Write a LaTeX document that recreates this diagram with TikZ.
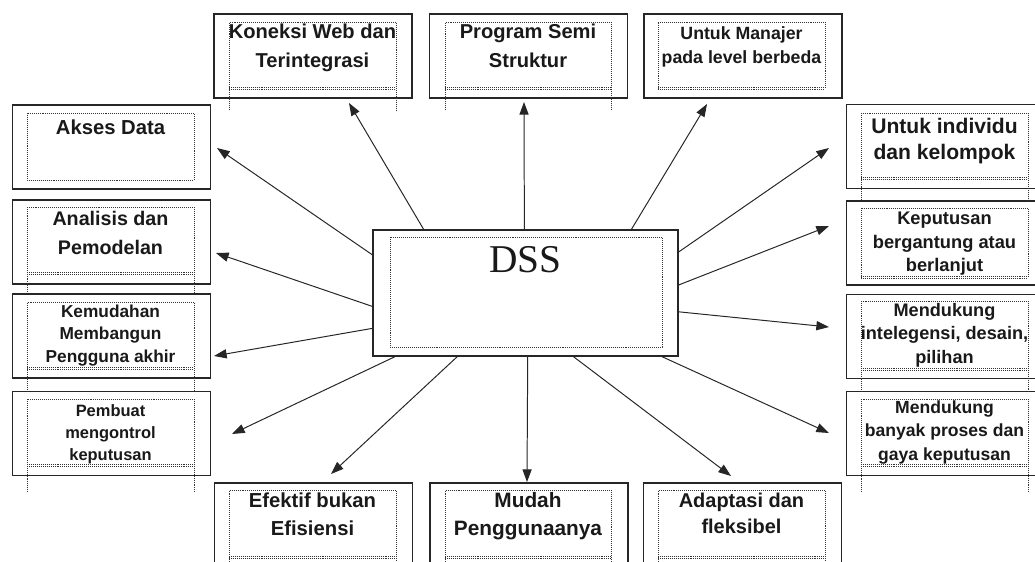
\documentclass[tikz,border=0pt]{standalone}
\usepackage{fontspec}
\setmainfont{Liberation Sans}
\newfontfamily\dssfont{Liberation Serif}
\usetikzlibrary{arrows.meta}

\newcommand{\boxfont}[2]{\fontsize{#1}{#2}\selectfont\bfseries}

\tikzset{
  panel/.style={draw=black!85,line width=0.9pt,minimum width=4.95cm,minimum height=2.1cm,inner sep=0pt},
  frame/.style={draw=black!80,line width=0.5pt,dash pattern=on 0.5pt off 0.9pt},
  boxtext/.style={inner sep=0pt,align=center,text=black!90},
  spoke/.style={draw=black!85,line width=0.7pt,-{Triangle[length=9pt,width=6.5pt]}},
}

\begin{document}
\begin{tikzpicture}[x=0.025cm,y=-0.025cm]
  \clip (0,0) rectangle (1035,561);
  \fill[white] (0,0) rectangle (1035,561);

  % centre box
  \node[panel,minimum width=7.625cm,minimum height=3.15cm] (dss) at (525.5,293) {};
  \draw[frame] (390,237) rectangle (662,347);
  \node[boxtext,anchor=base,font=\dssfont\fontsize{28}{32}\selectfont] (dss-txt) at (525.5,272) {DSS};

  % outer boxes
  \node[panel] (koneksi) at (313,56) {};
  \node[panel] (program) at (528.5,56) {};
  \node[panel] (manajer) at (743,56) {};
  \node[panel] (akses) at (111.5,147) {};
  \node[panel] (analisis) at (111.5,242) {};
  \node[panel] (kemudahan) at (111.5,336) {};
  \node[panel] (pembuat) at (111.5,433.5) {};
  \node[panel] (individu) at (945.5,146.5) {};
  \node[panel] (keputusan) at (945.5,243) {};
  \node[panel] (intel) at (945.5,336.5) {};
  \node[panel] (banyak) at (945.5,433.5) {};
  \node[panel] (efektif) at (313.5,525) {};
  \node[panel] (mudah) at (529,525) {};
  \node[panel] (adaptasi) at (742.5,525) {};

  % dotted text frames running past the box
  \foreach \xa/\xb/\top/\dbl/\ext in {229/396/22/88/110, 445/611/22/88/110,
      27/194/207/273/292, 27/194/302/368/392, 27/194/399/465/492,
      861/1028/113/178/200, 861/1028/301/369/392, 861/1028/399/465/492,
      229/396/490/557/570, 445/611/490/557/570, 658/825/490/557/570} {
    \draw[frame] (\xa,\ext) -- (\xa,\top) -- (\xb,\top) -- (\xb,\ext);
    \draw[frame] (\xa,{\dbl-1}) -- (\xb,{\dbl-1});
    \draw[frame] (\xa,{\dbl+1}) -- (\xb,{\dbl+1});
  }
  % closed frames
  \foreach \xa/\xb/\top/\dbl in {658/825/22/88, 861/1028/208/277} {
    \draw[frame] (\xa,{\dbl+1}) -- (\xa,\top) -- (\xb,\top) -- (\xb,{\dbl+1});
    \draw[frame] (\xa,{\dbl-1}) -- (\xb,{\dbl-1});
    \draw[frame] (\xa,{\dbl+1}) -- (\xb,{\dbl+1});
  }
  \draw[frame] (27,113) rectangle (194,180);

  % texts
  \node[boxtext,anchor=north,font={\boxfont{14.3}{20.6}}] (koneksi-txt) at (312.5,23.5) {Koneksi Web dan\\Terintegrasi};
  \node[boxtext,anchor=north,font={\boxfont{14.3}{20.6}}] (program-txt) at (528,23.5) {Program Semi\\Struktur};
  \node[boxtext,anchor=north,font={\boxfont{12.6}{17.1}}] (manajer-txt) at (741.5,26.3) {Untuk Manajer\\pada level berbeda};
  \node[boxtext,anchor=base,font={\boxfont{14.4}{20}}] (akses-txt) at (110.5,134) {Akses Data};
  \node[boxtext,anchor=north,font={\boxfont{14.0}{20.6}}] (analisis-txt) at (110.5,210.8) {Analisis dan\\Pemodelan};
  \node[boxtext,anchor=north,font={\boxfont{12.3}{16}}] (kemudahan-txt) at (110.5,304.6) {Kemudahan\\Membangun\\Pengguna akhir};
  \node[boxtext,anchor=north,font={\boxfont{11.7}{15.6}}] (pembuat-txt) at (110.5,404.2) {Pembuat\\mengontrol\\keputusan};
  \node[boxtext,anchor=north,font={\boxfont{15}{18.5}}] (individu-txt) at (944.5,118) {Untuk individu\\dan kelompok};
  \node[boxtext,anchor=north,font={\boxfont{13.0}{16.7}}] (keputusan-txt) at (944.5,211.8) {Keputusan\\bergantung atau\\berlanjut};
  \node[boxtext,anchor=north,font={\boxfont{12.9}{16.7}}] (intel-txt) at (944.5,302.9) {Mendukung\\intelegensi, desain,\\pilihan};
  \node[boxtext,anchor=north,font={\boxfont{12.5}{16.7}}] (banyak-txt) at (944.5,400.4) {Mendukung\\banyak proses dan\\gaya keputusan};
  \node[boxtext,anchor=north,font={\boxfont{14.4}{19.9}}] (efektif-txt) at (312.5,492.4) {Efektif bukan\\Efisiensi};
  \node[boxtext,anchor=north,font={\boxfont{14.8}{19.9}}] (mudah-txt) at (528,492) {Mudah\\Penggunaanya};
  \node[boxtext,anchor=north,font={\boxfont{14.2}{18.5}}] (adaptasi-txt) at (741.5,492.6) {Adaptasi dan\\fleksibel};

  % arrow tips
  \coordinate (to-koneksi) at (349,103);
  \coordinate (to-program) at (524,102);
  \coordinate (to-manajer) at (707,104);
  \coordinate (to-individu) at (829,148);
  \coordinate (to-keputusan) at (829,226);
  \coordinate (to-intel) at (829,327);
  \coordinate (to-banyak) at (829,433);
  \coordinate (to-adaptasi) at (731,476);
  \coordinate (to-mudah) at (527,482);
  \coordinate (to-efektif) at (331,474);
  \coordinate (to-pembuat) at (232,434);
  \coordinate (to-kemudahan) at (214,356);
  \coordinate (to-analisis) at (216,253);
  \coordinate (to-akses) at (217,148);

  \draw[spoke] (dss.148.7) -- (to-koneksi);
  \draw[spoke] (dss.91) -- (to-program);
  \draw[spoke] (dss.31.6) -- (to-manajer);
  \draw[spoke] (dss.15.7) -- (to-individu);
  \draw[spoke] (dss.3.8) -- (to-keputusan);
  \draw[spoke] (dss.-7.5) -- (to-intel);
  \draw[spoke] (dss.-25.6) -- (to-banyak);
  \draw[spoke] (dss.-53.6) -- (to-adaptasi);
  \draw[spoke] (dss.-88.6) -- (to-mudah);
  \draw[spoke] (dss.-137) -- (to-efektif);
  \draw[spoke] (dss.-154.7) -- (to-pembuat);
  \draw[spoke] (dss.-167.1) -- (to-kemudahan);
  \draw[spoke] (dss.-175.5) -- (to-analisis);
  \draw[spoke] (dss.166) -- (to-akses);
\end{tikzpicture}
\end{document}
